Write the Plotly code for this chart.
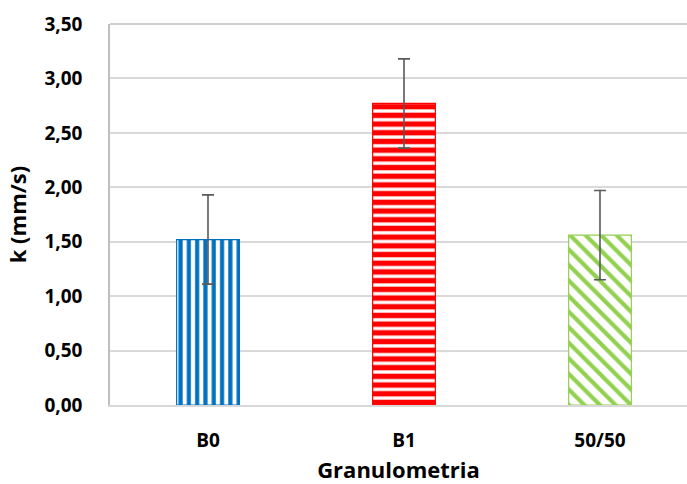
import plotly.graph_objects as go

categories = ["B0", "B1", "50/50"]
values = [1.52, 2.77, 1.56]
errors = [0.41, 0.41, 0.41]
colors = ["#0070C0", "#FF0000", "#92D050"]
shapes = ["|", "-", "\\"]
sizes = [8.3, 8.7, 11]
solidities = [0.5, 0.62, 0.38]
y_ticks = [0, 0.5, 1, 1.5, 2, 2.5, 3, 3.5]
y_labels = ["0,00", "0,50", "1,00", "1,50", "2,00", "2,50", "3,00", "3,50"]

FONT = "Open Sans"

fig = go.Figure()
for i, cat in enumerate(categories):
    fig.add_trace(go.Bar(
        x=[cat], y=[values[i]],
        width=0.32,
        marker=dict(
            color="white",
            line=dict(color=colors[i], width=1.2),
            pattern=dict(shape=shapes[i], fgcolor=colors[i], bgcolor="white",
                         fgopacity=1, size=sizes[i], solidity=solidities[i],
                         fillmode="replace"),
        ),
        error_y=dict(type="data", array=[errors[i]], visible=True,
                     color="#595959", thickness=1.6, width=6),
        showlegend=False,
    ))

fig.update_layout(
    width=687, height=484,
    margin=dict(l=110, r=0, t=24, b=79),
    paper_bgcolor="white", plot_bgcolor="white",
    font=dict(family=FONT, color="black"),
    bargap=0.68,
    xaxis=dict(
        range=[-0.5, -0.5 + 577 / 196],
        showgrid=False,
        showline=True, linecolor="#d9d9d9", linewidth=1.5,
        tickfont=dict(family=FONT, size=19, color="black", weight="bold"),
        ticklabelstandoff=17,
        title=dict(text="<b>Granulometria</b>", font=dict(family=FONT, size=22, color="black"),
                   standoff=12),
    ),
    yaxis=dict(
        range=[0, 3.5],
        tickvals=y_ticks, ticktext=y_labels,
        showgrid=True, gridcolor="#d9d9d9", gridwidth=1.5,
        zeroline=False,
        showline=True, linecolor="#bfbfbf", linewidth=1.5, mirror=False,
        tickfont=dict(family=FONT, size=19, color="black", weight="bold"),
        ticklabelstandoff=22,
        title=dict(text="<b>k (mm/s)</b>", font=dict(family=FONT, size=22, color="black"),
                   standoff=12),
    ),
)
# top border line of the plot area
fig.add_shape(type="line", xref="paper", yref="paper", x0=0, x1=1, y0=1, y1=1,
              line=dict(color="#bfbfbf", width=1.5))

fig.write_html("out.html")
